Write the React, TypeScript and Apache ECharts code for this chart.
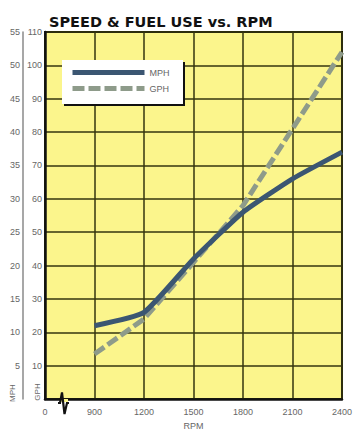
import React, { useEffect, useRef } from "react";
import * as echarts from "echarts";

const rpm = [900, 1200, 1500, 1800, 2100, 2400];
const mph = [11, 13, 21, 28, 33, 37];
const gph = [13.5, 24, 41, 58, 81, 104];
const seriesNames = ["MPH", "GPH"];
const titleText = "SPEED & FUEL USE vs. RPM";

export default function App() {
  const ref = useRef<HTMLDivElement>(null);
  useEffect(() => {
    if (!ref.current) return;
    const chart = echarts.init(ref.current, undefined, { renderer: "svg" });
    const font = "Liberation Sans, Arial, sans-serif";
    const gridLine = "#35340f";
    chart.setOption({
      animation: false,
      backgroundColor: "#ffffff",
      title: {
        text: titleText,
        left: 44,
        top: 9,
        textStyle: { fontSize: 14.5, fontWeight: "bold", color: "#111", fontFamily: "DejaVu Sans, sans-serif" },
      },
      legend: {
        data: seriesNames,
        orient: "vertical",
        left: 62,
        top: 60,
        padding: [8, 18, 8, 8],
        itemWidth: 72,
        itemHeight: 8,
        itemGap: 7,
        itemStyle: { opacity: 0 },
        lineStyle: { width: 5 },
        textStyle: { fontSize: 9, color: "#666", fontFamily: font },
        z: 6,
      },
      grid: {
        left: 45,
        right: 3,
        top: 32,
        bottom: 32,
        show: true,
        backgroundColor: "#fbf58c",
        borderColor: "#1a1a08",
        borderWidth: 2,
      },
      xAxis: {
        type: "value",
        min: 600,
        max: 2400,
        interval: 300,
        name: "RPM",
        nameLocation: "middle",
        nameGap: 19,
        nameTextStyle: { fontSize: 9, color: "#666", fontFamily: font },
        axisLine: { show: true, lineStyle: { color: "#111", width: 2.5 } },
        axisTick: { show: false },
        axisLabel: {
          fontSize: 9,
          color: "#666",
          fontFamily: font,
          margin: 8,
          formatter: (v: number) => (v === 600 ? "0" : String(v)),
        },
        splitLine: { show: true, lineStyle: { color: gridLine, width: 1.5 } },
      },
      yAxis: [
        {
          type: "value",
          min: 0,
          max: 110,
          interval: 10,
          position: "left",
          axisLine: { show: true, lineStyle: { color: "#111", width: 2.5 } },
          axisTick: { show: false },
          axisLabel: {
            fontSize: 9,
            color: "#666",
            fontFamily: font,
            margin: 3,
            formatter: (v: number) => (v === 0 ? "" : String(v)),
          },
          splitLine: { show: true, lineStyle: { color: gridLine, width: 1.5 } },
        },
        {
          type: "value",
          min: 0,
          max: 55,
          interval: 5,
          position: "left",
          offset: 22,
          axisLine: { show: true, lineStyle: { color: "#8a8a8a", width: 1.5 } },
          axisTick: { show: false },
          axisLabel: {
            fontSize: 9,
            color: "#666",
            fontFamily: font,
            margin: 3,
            formatter: (v: number) => (v === 0 ? "" : String(v)),
          },
          splitLine: { show: false },
        },
      ],
      graphic: [
        {
          type: "rect",
          shape: { x: 64, y: 62, width: 121, height: 44 },
          style: { fill: "#111" },
          z: 3,
        },
        {
          type: "rect",
          shape: { x: 62, y: 60, width: 121, height: 44 },
          style: { fill: "#ffffff" },
          z: 4,
        },
        {
          type: "rect",
          shape: { x: 60, y: 399, width: 8, height: 3 },
          style: { fill: "#fbf58c" },
          z: 10,
        },
        {
          type: "rect",
          shape: { x: 60, y: 402, width: 8, height: 4 },
          style: { fill: "#ffffff" },
          z: 10,
        },
        {
          type: "polyline",
          shape: { points: [[58, 403], [60, 403], [62, 392.5], [64.5, 414], [67, 403], [69, 403]] },
          style: { stroke: "#111", lineWidth: 2.2, fill: "none" },
          z: 11,
        },
        {
          type: "text",
          x: 12,
          y: 393,
          rotation: Math.PI / 2,
          style: { text: "MPH", fontSize: 8, fill: "#666", fontFamily: font, align: "center", verticalAlign: "middle" },
          z: 11,
        },
        {
          type: "text",
          x: 37,
          y: 392,
          rotation: Math.PI / 2,
          style: { text: "GPH", fontSize: 8, fill: "#666", fontFamily: font, align: "center", verticalAlign: "middle" },
          z: 11,
        },
      ],
      series: [
        {
          name: "GPH",
          type: "line",
          yAxisIndex: 0,
          data: rpm.map((r, i) => [r, gph[i]]),
          symbol: "none",
          lineStyle: { color: "#8e9b8a", width: 5, type: [12, 4] },
          itemStyle: { color: "#8e9b8a" },
          z: 3,
        },
        {
          name: "MPH",
          type: "line",
          yAxisIndex: 1,
          data: rpm.map((r, i) => [r, mph[i]]),
          symbol: "none",
          smooth: 0.15,
          lineStyle: { color: "#3b5672", width: 5 },
          itemStyle: { color: "#3b5672" },
          z: 4,
        },
      ],
    });
    return () => chart.dispose();
  }, []);
  return (
    <div
      ref={ref}
      style={{ position: "fixed", left: 0, top: 0, width: 355, height: 435 }}
    />
  );
}
